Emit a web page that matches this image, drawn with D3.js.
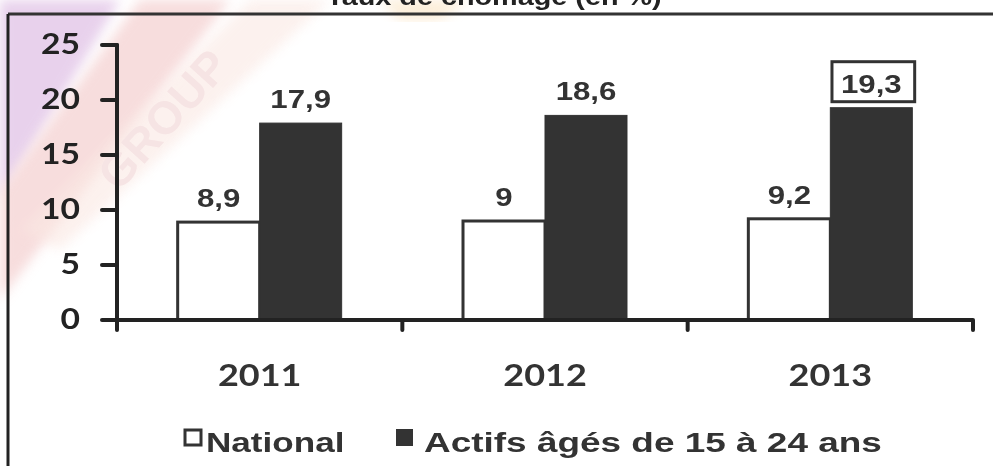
<!DOCTYPE html>
<html><head><meta charset="utf-8">
<script src="https://cdn.jsdelivr.net/npm/d3@7/dist/d3.min.js"></script>
<style>html,body{margin:0;padding:0;background:#fff;overflow:hidden}</style>
</head><body>
<svg id="c" width="993" height="466"></svg>
<script>
const title = "Taux de chômage (en %)";
const years = ["2011", "2012", "2013"];
const seriesNames = ["National", "Actifs âgés de 15 à 24 ans"];
const national = [8.9, 9, 9.2];
const youth = [17.9, 18.6, 19.3];
const nationalLabels = ["8,9", "9", "9,2"];
const youthLabels = ["17,9", "18,6", "19,3"];
const yTicks = [0, 5, 10, 15, 20, 25];

const svg = d3.select("#c");
const ink = "#333";
const SX = 1.2;

// faint watermark
const wm = svg.append("g").attr("opacity", 0.6);
const defs = svg.append("defs");
defs.append("filter").attr("id","blur").append("feGaussianBlur").attr("stdDeviation", 6);
wm.append("polygon").attr("points","0,0 120,0 0,200").attr("fill","#d9b3e0").attr("filter","url(#blur)");
wm.append("polygon").attr("points","140,0 230,0 0,300 0,190").attr("fill","#f2c6c6").attr("filter","url(#blur)");
wm.append("polygon").attr("points","250,0 330,0 60,250 20,230").attr("fill","#f7d9d0").attr("filter","url(#blur)").attr("opacity",0.6);
wm.append("polygon").attr("points","380,0 470,0 440,20 400,20").attr("fill","#fbe3c0").attr("filter","url(#blur)");
wm.append("text").attr("transform","translate(175,130) rotate(-48)")
  .attr("font-family","Liberation Sans, Arial, sans-serif").attr("font-weight","bold")
  .attr("font-size",46).attr("fill","#f0d2d2").attr("text-anchor","middle").text("GROUP");

function stext(g, x, y, str, size, family, anchor, color, sx) {
  return g.append("text")
    .attr("transform", `translate(${x},${y}) scale(${sx || SX},1)`)
    .attr("font-family", family).attr("font-weight", "bold")
    .attr("font-size", size).attr("fill", color || ink)
    .attr("text-anchor", anchor || "middle").text(str);
}
const arial = "Liberation Sans, Arial, sans-serif";
const calibri = "Lato, 'Open Sans', sans-serif";

// title (clipped at top, as in the reference)
stext(svg, 494, 5, title, 24, arial, "middle", "#222");

// frame
svg.append("line").attr("x1", 8).attr("x2", 993).attr("y1", 14).attr("y2", 14).attr("stroke", ink).attr("stroke-width", 3);
svg.append("line").attr("x1", 8).attr("x2", 8).attr("y1", 14).attr("y2", 466).attr("stroke", "#222").attr("stroke-width", 3);

const x0 = d3.scaleBand().domain(years).range([117, 973]).padding(0);
const x1 = d3.scaleBand().domain(seriesNames).range([0, x0.bandwidth()]).paddingInner(0).paddingOuter(0.74);
const y = d3.scaleLinear().domain([0, 25]).range([320, 45]);

// bars
const g = svg.append("g");
years.forEach((yr, i) => {
  const xn = x0(yr) + x1(seriesNames[0]);
  const xy = x0(yr) + x1(seriesNames[1]);
  const w = x1.bandwidth();
  g.append("rect").attr("x", xn).attr("y", y(national[i])).attr("width", w).attr("height", y(0) - y(national[i]))
    .attr("fill", "#fff").attr("stroke", ink).attr("stroke-width", 3);
  g.append("rect").attr("x", xy).attr("y", y(youth[i])).attr("width", w).attr("height", y(0) - y(youth[i]))
    .attr("fill", ink).attr("stroke", ink).attr("stroke-width", 1);
  stext(g, xn + w / 2, y(national[i]) - 15, nationalLabels[i], 26, arial);
  const t = stext(g, xy + w / 2, y(youth[i]) - 15, youthLabels[i], 26, arial);
  if (i === years.length - 1) {
    const bb = t.node().getBBox();
    const bw = bb.width * SX + 22, bh = 40;
    g.append("rect").attr("x", xy + w / 2 - bw / 2 + 2).attr("y", y(youth[i]) - 46)
      .attr("width", bw).attr("height", bh).attr("fill", "none").attr("stroke", ink).attr("stroke-width", 3);
  }
});

// y axis
const ax = svg.append("g");
ax.append("line").attr("x1", 117).attr("x2", 117).attr("y1", y(25)).attr("y2", 330)
  .attr("stroke", "#222").attr("stroke-width", 4).attr("stroke-linecap", "round");
yTicks.forEach(v => {
  ax.append("line").attr("x1", 102).attr("x2", 117).attr("y1", y(v)).attr("y2", y(v))
    .attr("stroke", "#222").attr("stroke-width", 4).attr("stroke-linecap", "round");
  stext(ax, 80, y(v) + 9, String(v), 28, calibri, "end", "#222");
});
// x axis
ax.append("line").attr("x1", 117).attr("x2", 973).attr("y1", y(0)).attr("y2", y(0))
  .attr("stroke", "#222").attr("stroke-width", 4);
years.forEach((yr) => {
  const xe = x0(yr) + x0.bandwidth();
  ax.append("line").attr("x1", xe).attr("x2", xe).attr("y1", y(0)).attr("y2", 330)
    .attr("stroke", "#222").attr("stroke-width", 4).attr("stroke-linecap", "round");
  stext(ax, x0(yr) + x0.bandwidth() / 2, 386, yr, 30, calibri, "middle", "#333");
});

// legend
const lg = svg.append("g");
lg.append("rect").attr("x", 185).attr("y", 430).attr("width", 16).attr("height", 15)
  .attr("fill", "#fff").attr("stroke", ink).attr("stroke-width", 3);
stext(lg, 206, 452, seriesNames[0], 27, arial, "start", ink, 1.3);
lg.append("rect").attr("x", 396).attr("y", 429).attr("width", 17).attr("height", 17).attr("fill", ink);
stext(lg, 424, 452, seriesNames[1], 28, arial, "start", ink, 1.32);
</script>
</body></html>
